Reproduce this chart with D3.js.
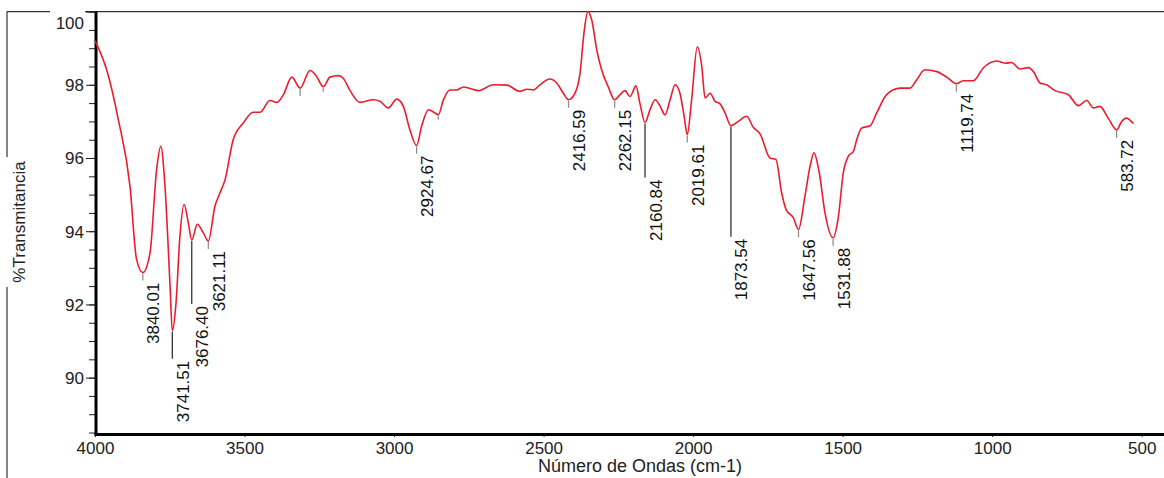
<!DOCTYPE html>
<html>
<head>
<meta charset="utf-8">
<script src="https://cdn.jsdelivr.net/npm/d3@7"></script>
<style>
body { margin: 0; background: #fff; }
svg { display: block; font-family: "Liberation Sans", Arial, sans-serif; }
</style>
</head>
<body>
<div id="wrapper"></div>
<script>
// spectrum (cm-1, %T)
const wavenumber = [4000, 3961, 3922, 3883, 3861, 3840.01, 3816, 3794, 3780, 3766, 3749, 3741.51, 3729, 3716, 3702, 3688, 3676.40, 3658, 3638, 3621.11,
  3599, 3582, 3565, 3538, 3504, 3471, 3448, 3415, 3392, 3370, 3342, 3314, 3281, 3259, 3237, 3214, 3186, 3170, 3147, 3114,
  3069, 3047, 3019, 2991, 2969, 2947, 2924.67, 2908, 2885, 2863, 2852, 2835, 2813, 2791, 2768, 2718, 2668, 2623, 2579, 2556,
  2534, 2512, 2479, 2456, 2434, 2416.59, 2395, 2378, 2365, 2352, 2339, 2322, 2306, 2284, 2262.15, 2244, 2228, 2211, 2191, 2178,
  2160.84, 2144, 2127, 2110, 2094, 2077, 2060, 2044, 2030, 2019.61, 2005, 1986, 1971, 1960, 1943, 1927, 1910, 1893, 1873.54, 1849,
  1821, 1799, 1776, 1743, 1723, 1704, 1689, 1665, 1647.56, 1626, 1609, 1596, 1578, 1559, 1531.88, 1514, 1498, 1481, 1464, 1453,
  1436, 1408, 1386, 1353, 1308, 1275, 1252, 1225, 1185, 1152, 1119.74, 1097, 1063, 1030, 985, 957, 935, 907, 879, 862,
  840, 818, 790, 745, 712, 684, 662, 640, 612, 583.72, 567, 551, 528];
const transmittance = [99.2, 98.41, 97.05, 95.23, 93.23, 92.87, 93.41, 95.68, 96.32, 95.23, 92.5, 91.28, 92.05, 93.87, 94.73, 94.23, 93.76, 94.19, 93.96, 93.73,
  94.68, 95.05, 95.41, 96.5, 96.96, 97.25, 97.25, 97.57, 97.52, 97.73, 98.21, 97.91, 98.39, 98.23, 97.95, 98.21, 98.25, 98.18, 97.84, 97.52,
  97.59, 97.55, 97.37, 97.61, 97.41, 96.77, 96.34, 96.86, 97.32, 97.23, 97.18, 97.59, 97.86, 97.86, 97.94, 97.84, 98.0, 97.99, 97.82, 97.88,
  97.86, 98.0, 98.16, 98.05, 97.77, 97.59, 97.77, 98.32, 99.41, 100.0, 99.77, 98.95, 98.41, 97.95, 97.59, 97.73, 97.84, 97.68, 97.97, 97.5,
  96.97, 97.32, 97.59, 97.41, 97.18, 97.59, 98.0, 97.77, 97.14, 96.64, 97.59, 99.04, 98.5, 97.64, 97.77, 97.55, 97.48, 97.23, 96.88, 97.0,
  97.14, 96.84, 96.66, 96.0, 95.96, 95.05, 94.59, 94.37, 94.05, 94.96, 95.77, 96.14, 95.59, 94.5, 93.82, 94.41, 95.59, 96.05, 96.18, 96.5,
  96.82, 96.88, 97.23, 97.73, 97.91, 97.91, 98.14, 98.41, 98.36, 98.21, 98.03, 98.11, 98.11, 98.46, 98.65, 98.59, 98.61, 98.43, 98.47, 98.36,
  98.05, 98.0, 97.84, 97.73, 97.43, 97.57, 97.37, 97.41, 97.09, 96.77, 97.0, 97.09, 96.94];

// marked peaks
const peakWn = [3840.01, 3741.51, 3676.40, 3621.11, 3314, 3237, 2924.67, 2852, 2416.59, 2262.15, 2160.84, 2019.61, 1873.54, 1647.56, 1531.88, 1119.74, 583.72];
const peakLabels = ["3840.01", "3741.51", "3676.40", "3621.11", "", "", "2924.67", "", "2416.59", "2262.15", "2160.84", "2019.61", "1873.54", "1647.56", "1531.88", "1119.74", "583.72"];
const leaderLen = [8, 28, 64, 8, 8, 5, 8, 5, 8, 8, 55, 8, 111, 8, 8, 8, 8];

const xTicks = [4000, 3500, 3000, 2500, 2000, 1500, 1000, 500];
const yTicks = [90, 92, 94, 96, 98, 100];
const yMinor = d3.range(88.5, 100.01, 0.5);

const width = 1164, height = 478;
const plot = { left: 95, right: 1141.7, top: 11.6, bottom: 434 };

const data = wavenumber.map((w, i) => ({ w, t: transmittance[i] }));

const xScale = d3.scaleLinear().domain([4000, 500]).range([plot.left, plot.right]);
const yScale = d3.scaleLinear().domain([88.46, 100]).range([plot.bottom, plot.top]);

const svg = d3.select("#wrapper").append("svg")
  .attr("width", width)
  .attr("height", height);

svg.append("rect").attr("width", width).attr("height", height).attr("fill", "#fff");

// outer frame bits
svg.append("path")
  .attr("d", `M7,${plot.top}V157M7,287V${height}M7,${plot.top}H50M85,${plot.top}H${width}`)
  .attr("fill", "none")
  .attr("stroke", "#333")
  .attr("stroke-width", 1.2);

// y axis minor ticks
const yAxisMinor = d3.axisLeft(yScale).tickValues(yMinor).tickSize(6).tickFormat("");
svg.append("g").attr("transform", `translate(${plot.left},0)`).call(yAxisMinor)
  .call(g => g.select(".domain").remove())
  .call(g => g.selectAll("line").attr("stroke", "#222"));

const yAxis = d3.axisLeft(yScale).tickValues(yTicks).tickSize(9).tickPadding(2).tickFormat(d3.format("d"));
const yAxisG = svg.append("g").attr("transform", `translate(${plot.left},0)`).call(yAxis)
  .call(g => g.select(".domain").remove());
yAxisG.selectAll("line").attr("stroke", "#222");
yAxisG.selectAll("text")
  .attr("font-size", 17)
  .attr("fill", "#222")
  .attr("font-family", "Liberation Sans, Arial, sans-serif")
  .attr("dy", d => d === 100 ? "1.0em" : "0.35em");

const xAxis = d3.axisBottom(xScale).tickValues(xTicks).tickSize(3).tickPadding(5).tickFormat(d3.format("d"));
const xAxisG = svg.append("g").attr("transform", `translate(0,${plot.bottom})`).call(xAxis)
  .call(g => g.select(".domain").remove());
xAxisG.selectAll("line").attr("stroke", "#222");
xAxisG.selectAll("text")
  .attr("font-size", 17)
  .attr("fill", "#222")
  .attr("font-family", "Liberation Sans, Arial, sans-serif");

// thick axis lines
svg.append("line")
  .attr("x1", plot.left + 1).attr("x2", plot.left + 1)
  .attr("y1", plot.top).attr("y2", plot.bottom + 1.5)
  .attr("stroke", "#000").attr("stroke-width", 3);
svg.append("line")
  .attr("x1", plot.left - 0.5).attr("x2", width)
  .attr("y1", plot.bottom + 0.5).attr("y2", plot.bottom + 0.5)
  .attr("stroke", "#000").attr("stroke-width", 3);

// spectrum line
const lineGenerator = d3.line()
  .x(d => xScale(d.w))
  .y(d => yScale(d.t))
  .curve(d3.curveMonotoneX);

svg.append("path")
  .datum(data)
  .attr("d", lineGenerator)
  .attr("fill", "none")
  .attr("stroke", "#ec1c2e")
  .attr("stroke-width", 1.6);

// peak leaders and labels
const peaks = peakWn.map((w, i) => {
  const closest = data[d3.minIndex(data, d => Math.abs(d.w - w))];
  return { w, t: closest.t, label: peakLabels[i], len: leaderLen[i] };
});

const peakG = svg.append("g");
peakG.selectAll("line")
  .data(peaks)
  .join("line")
  .attr("x1", d => xScale(d.w)).attr("x2", d => xScale(d.w))
  .attr("y1", d => yScale(d.t) + 1).attr("y2", d => yScale(d.t) + d.len)
  .attr("stroke", d => d.len > 10 ? "#222" : "#888")
  .attr("stroke-width", 1.2);

peakG.selectAll("text")
  .data(peaks.filter(d => d.label))
  .join("text")
  .attr("transform", d => `translate(${xScale(d.w) + 16.5},${yScale(d.t) + d.len + 2}) rotate(-90)`)
  .attr("text-anchor", "end")
  .attr("font-size", 17)
  .attr("fill", "#111")
  .text(d => d.label);

// axis titles
svg.append("text")
  .attr("transform", "translate(25,222) rotate(-90)")
  .attr("text-anchor", "middle")
  .attr("font-size", 17)
  .attr("fill", "#222")
  .text("%Transmitancia");

svg.append("text")
  .attr("x", 640)
  .attr("y", 472)
  .attr("text-anchor", "middle")
  .attr("font-size", 18)
  .attr("fill", "#222")
  .text("Número de Ondas (cm-1)");
</script>
</body>
</html>
